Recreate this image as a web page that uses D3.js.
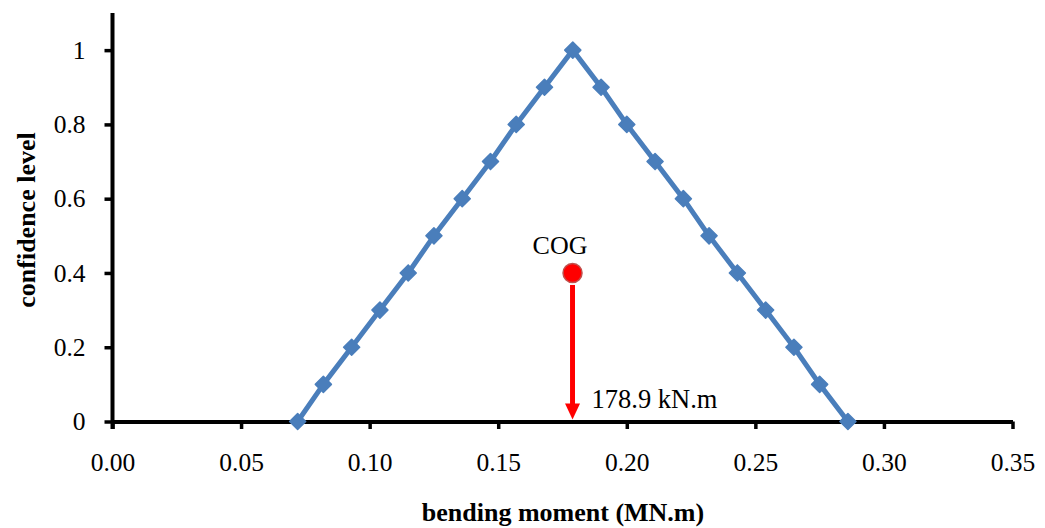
<!DOCTYPE html>
<html>
<head>
<meta charset="utf-8">
<script src="https://cdn.jsdelivr.net/npm/d3@7"></script>
<style>
  html, body { margin: 0; padding: 0; background: #fff; }
  svg { display: block; }
  text { font-family: "Liberation Serif", "Times New Roman", serif; fill: #000; }
</style>
</head>
<body>
<svg id="chart" width="1045" height="528"></svg>
<script>
// Triangular membership function of the bending moment (MN.m)
const moment = [0.072, 0.082, 0.093, 0.104, 0.115, 0.125, 0.136, 0.147, 0.157, 0.168, 0.179,
                0.190, 0.200, 0.211, 0.222, 0.232, 0.243, 0.254, 0.265, 0.275, 0.286];
const confidence = [0, 0.1, 0.2, 0.3, 0.4, 0.5, 0.6, 0.7, 0.8, 0.9, 1.0,
                    0.9, 0.8, 0.7, 0.6, 0.5, 0.4, 0.3, 0.2, 0.1, 0];

// Centre of gravity of the fuzzy set
const cogMoment = 0.1789;
const cogLevel = 0.4;
const cogLabel = "COG";
const cogValueLabel = "178.9 kN.m";

const xTicks = [0, 0.05, 0.10, 0.15, 0.20, 0.25, 0.30, 0.35];
const yTicks = [0, 0.2, 0.4, 0.6, 0.8, 1];
const xTitle = "bending moment (MN.m)";
const yTitle = "confidence level";

const svg = d3.select("#chart");
const plotLeft = 112.5, plotRight = 1012.5, plotTop = 13, plotBottom = 421.5;

const x = d3.scaleLinear().domain([0, 0.35]).range([plotLeft, plotRight]);
const y = d3.scaleLinear().domain([0, 1.1]).range([plotBottom, plotTop]);

// axes
const xAxis = svg.append("g").attr("transform", `translate(0,${plotBottom})`)
  .call(d3.axisBottom(x).tickValues(xTicks).tickFormat(d3.format(".2f")).tickSizeInner(7.5).tickSizeOuter(0).tickPadding(23.5));
const yAxis = svg.append("g").attr("transform", `translate(${plotLeft},0)`)
  .call(d3.axisLeft(y).tickValues(yTicks).tickFormat(d => String(+d.toFixed(1))).tickSizeInner(8).tickSizeOuter(0).tickPadding(19));

[xAxis, yAxis].forEach(g => {
  g.select(".domain").attr("stroke", "#000").attr("stroke-width", 4);
  g.selectAll(".tick line").attr("stroke", "#000").attr("stroke-width", 3.5);
  g.selectAll(".tick text").style("font-family", "Liberation Serif, serif").style("font-size", "25.5px").attr("fill", "#000");
});
// extend y axis slightly below the x axis
yAxis.select(".domain").attr("d", `M0,${y(1.1)}V${plotBottom + 7.5}`);

// axis titles
svg.append("text")
  .attr("x", 563).attr("y", 521)
  .attr("text-anchor", "middle")
  .style("font-size", "26px").style("font-weight", "bold")
  .text(xTitle);
svg.append("text")
  .attr("transform", `translate(35,220) rotate(-90)`)
  .attr("text-anchor", "middle")
  .style("font-size", "26px").style("font-weight", "bold")
  .text(yTitle);

// membership line
const pts = moment.map((m, i) => [m, confidence[i]]);
const blue = "#4a7ebb";
svg.append("path")
  .datum(pts)
  .attr("fill", "none").attr("stroke", blue).attr("stroke-width", 5)
  .attr("stroke-linejoin", "round")
  .attr("d", d3.line().x(d => x(d[0])).y(d => y(d[1])));

svg.selectAll(".marker").data(pts).enter().append("path")
  .attr("class", "marker")
  .attr("transform", d => `translate(${x(d[0])},${y(d[1])})`)
  .attr("d", d3.symbol().type(d3.symbolDiamond2).size(165))
  .attr("fill", blue).attr("stroke", blue).attr("stroke-width", 1.5).attr("stroke-linejoin", "round");

// COG arrow down to the x axis
const ax = x(cogMoment);
const arrowTop = y(cogLevel) + 12;
const arrowTip = plotBottom - 2;
svg.append("line")
  .attr("x1", ax).attr("x2", ax)
  .attr("y1", arrowTop).attr("y2", arrowTip - 14)
  .attr("stroke", "#ff0000").attr("stroke-width", 5);
svg.append("path")
  .attr("d", `M${ax - 7.5},${arrowTip - 16}L${ax + 7.5},${arrowTip - 16}L${ax},${arrowTip}Z`)
  .attr("fill", "#ff0000");

// COG point
svg.append("circle")
  .attr("cx", ax).attr("cy", y(cogLevel)).attr("r", 9.5)
  .attr("fill", "#ff0000").attr("stroke", "#c0504d").attr("stroke-width", 1.5);

svg.append("text")
  .attr("x", 560).attr("y", 254)
  .attr("text-anchor", "middle")
  .style("font-size", "26px")
  .text(cogLabel);

svg.append("text")
  .attr("x", 591.5).attr("y", 408)
  .style("font-size", "26.5px")
  .text(cogValueLabel);
</script>
</body>
</html>
